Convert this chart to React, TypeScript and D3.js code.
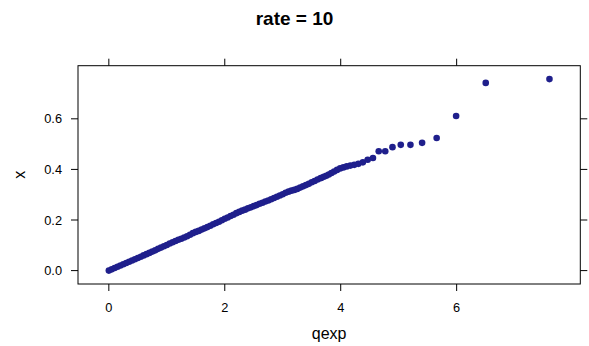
import React from "react";
import * as d3 from "d3";

const title = "rate = 10";
const xLabel = "qexp";
const yLabel = "x";

// theoretical exponential quantiles (x axis)
const qexpVals = [
  0.00, 0.05, 0.10, 0.15, 0.20, 0.25, 0.30, 0.35, 0.40, 0.45,
  0.50, 0.55, 0.60, 0.65, 0.70, 0.75, 0.80, 0.85, 0.90, 0.95,
  1.00, 1.05, 1.10, 1.15, 1.20, 1.25, 1.30, 1.35, 1.40, 1.45,
  1.50, 1.55, 1.60, 1.65, 1.70, 1.75, 1.80, 1.85, 1.90, 1.95,
  2.00, 2.05, 2.10, 2.15, 2.20, 2.25, 2.30, 2.35, 2.40, 2.45,
  2.50, 2.55, 2.60, 2.65, 2.70, 2.75, 2.80, 2.85, 2.90, 2.95,
  3.00, 3.05, 3.10, 3.15, 3.20, 3.25, 3.30, 3.35, 3.40, 3.45,
  3.50, 3.55, 3.60, 3.65,
  3.669, 3.709, 3.751, 3.794, 3.840, 3.887, 3.937, 3.990, 4.046, 4.104,
  4.167, 4.234, 4.305, 4.382, 4.465, 4.556, 4.656, 4.768, 4.893, 5.036,
  5.203, 5.404, 5.655, 5.991, 6.502, 7.601,
];

// sorted sample values (y axis)
const xVals = [
  0.000, 0.005, 0.010, 0.015, 0.020, 0.025, 0.030, 0.035, 0.040, 0.045,
  0.050, 0.055, 0.060, 0.065, 0.070, 0.075, 0.080, 0.086, 0.091, 0.096,
  0.101, 0.107, 0.112, 0.117, 0.122, 0.126, 0.131, 0.136, 0.142, 0.148,
  0.153, 0.157, 0.162, 0.167, 0.172, 0.177, 0.183, 0.188, 0.193, 0.199,
  0.205, 0.210, 0.216, 0.221, 0.227, 0.232, 0.237, 0.241, 0.246, 0.250,
  0.255, 0.259, 0.264, 0.268, 0.273, 0.277, 0.282, 0.287, 0.292, 0.297,
  0.302, 0.308, 0.312, 0.316, 0.319, 0.323, 0.328, 0.333, 0.338, 0.343,
  0.349, 0.354, 0.360, 0.365,
  0.367, 0.371, 0.375, 0.380, 0.386, 0.392, 0.398, 0.404, 0.408, 0.412,
  0.415, 0.418, 0.422, 0.428, 0.438, 0.445, 0.472, 0.472, 0.488, 0.497,
  0.497, 0.505, 0.524, 0.611, 0.742, 0.757,
];

const xTicks = [0, 2, 4, 6];
const xTickLabels = ["0", "2", "4", "6"];
const yTicks = [0, 0.2, 0.4, 0.6];
const yTickLabels = ["0.0", "0.2", "0.4", "0.6"];

const W = 589;
const H = 346;
const panel = { left: 78, right: 580.3, top: 65.7, bottom: 284 };
const FONT = "'Liberation Sans', Arial, Helvetica, sans-serif";
const DOT = "#1f1f8c";

export default function App() {
  const [qMin, qMax] = d3.extent(qexpVals) as [number, number];
  const [vMin, vMax] = d3.extent(xVals) as [number, number];
  const qPad = (qMax - qMin) * 0.07;
  const vPad = (vMax - vMin) * 0.07;
  const xScale = d3.scaleLinear().domain([qMin - qPad, qMax + qPad]).range([panel.left, panel.right]);
  const yScale = d3.scaleLinear().domain([vMin - vPad, vMax + vPad]).range([panel.bottom, panel.top]);
  const tick = 7;
  const pts = qexpVals.map((q, i) => ({ q, v: xVals[i] }));

  return (
    <svg
      width={W}
      height={H}
      style={{ position: "absolute", left: 0, top: 0, background: "#fff" }}
      fontFamily={FONT}
    >
      <rect x={0} y={0} width={W} height={H} fill="#fff" />
      <text x={W / 2} y={25} textAnchor="middle" fontWeight="bold" fontSize={19} fill="#000">
        {title}
      </text>
      <g fill={DOT}>
        {pts.map((p, i) => (
          <circle key={i} cx={xScale(p.q)} cy={yScale(p.v)} r={3.3} />
        ))}
      </g>
      <rect
        x={panel.left}
        y={panel.top}
        width={panel.right - panel.left}
        height={panel.bottom - panel.top}
        fill="none"
        stroke="#000"
        strokeWidth={1}
      />
      <g stroke="#000" strokeWidth={1}>
        {xTicks.map((t, i) => (
          <g key={i}>
            <line x1={xScale(t)} x2={xScale(t)} y1={panel.bottom} y2={panel.bottom + tick} />
            <line x1={xScale(t)} x2={xScale(t)} y1={panel.top} y2={panel.top - tick} />
          </g>
        ))}
        {yTicks.map((t, i) => (
          <g key={i}>
            <line x1={panel.left} x2={panel.left - tick} y1={yScale(t)} y2={yScale(t)} />
            <line x1={panel.right} x2={panel.right + tick} y1={yScale(t)} y2={yScale(t)} />
          </g>
        ))}
      </g>
      <g fontSize={12.8} fill="#000">
        {xTicks.map((t, i) => (
          <text key={i} x={xScale(t)} y={312} textAnchor="middle">
            {xTickLabels[i]}
          </text>
        ))}
        {yTicks.map((t, i) => (
          <text key={i} x={62} y={yScale(t) + 4.6} textAnchor="end">
            {yTickLabels[i]}
          </text>
        ))}
      </g>
      <text x={(panel.left + panel.right) / 2} y={339} textAnchor="middle" fontSize={16} fill="#000">
        {xLabel}
      </text>
      <text
        transform={`translate(25, ${(panel.top + panel.bottom) / 2}) rotate(-90)`}
        textAnchor="middle"
        fontSize={16}
        fill="#000"
      >
        {yLabel}
      </text>
    </svg>
  );
}
